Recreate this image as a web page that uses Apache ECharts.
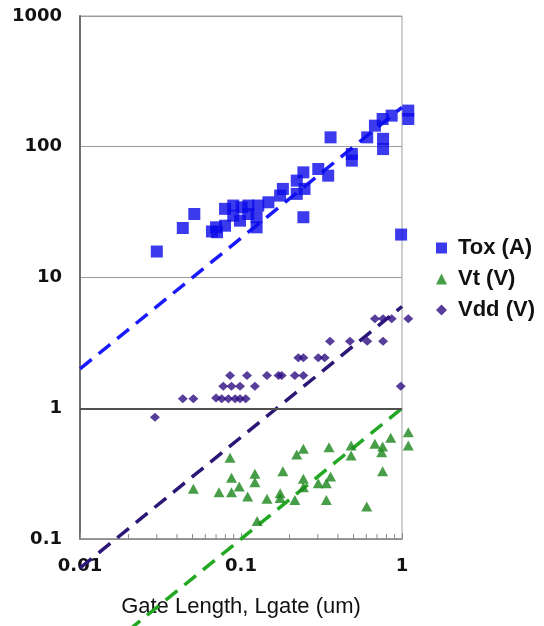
<!DOCTYPE html>
<html>
<head>
<meta charset="utf-8">
<script src="https://cdn.jsdelivr.net/npm/echarts@6/dist/echarts.min.js"></script>
<style>
  html, body { margin: 0; padding: 0; background: #fff; }
  #main { width: 544px; height: 626px; }
</style>
</head>
<body>
<div id="main"></div>
<script>
// gate length (um) vs value
var toxPoints = [
  [0.030, 15.8], [0.0435, 23.9], [0.0513, 30.6], [0.066, 22.5], [0.070, 24.2], [0.071, 22.2],
  [0.0796, 24.9], [0.0796, 33.5], [0.0895, 29.7], [0.0895, 35.5], [0.0986, 27.2], [0.101, 34.4],
  [0.111, 30.6], [0.111, 35.5], [0.125, 24.2], [0.125, 28.9], [0.128, 35.5], [0.148, 37.6],
  [0.175, 42.3], [0.182, 47.6], [0.222, 55.1], [0.222, 43.6], [0.244, 63.7], [0.248, 47.6],
  [0.244, 28.9], [0.302, 67.6], [0.348, 60.1], [0.360, 118], [0.488, 78.3], [0.488, 88.1],
  [0.608, 118], [0.679, 145], [0.758, 163], [0.763, 115], [0.763, 96], [0.863, 173],
  [1.094, 189], [1.094, 163], [0.987, 21.3]
];
var vtPoints = [
  [0.0506, 0.242], [0.0855, 0.418], [0.0873, 0.294], [0.0730, 0.228], [0.0873, 0.228],
  [0.0975, 0.252], [0.110, 0.211], [0.122, 0.315], [0.122, 0.272], [0.145, 0.203],
  [0.126, 0.137], [0.182, 0.330], [0.175, 0.224], [0.175, 0.206], [0.216, 0.199],
  [0.222, 0.443], [0.244, 0.489], [0.244, 0.289], [0.244, 0.249], [0.302, 0.267],
  [0.339, 0.267], [0.360, 0.301], [0.339, 0.199], [0.352, 0.503], [0.483, 0.519],
  [0.483, 0.435], [0.604, 0.177], [0.679, 0.534], [0.758, 0.509], [0.748, 0.461],
  [0.758, 0.330], [0.851, 0.594], [1.094, 0.656], [1.094, 0.519]
];
var vddPoints = [
  [0.0292, 0.853], [0.0435, 1.18], [0.0506, 1.18], [0.070, 1.20], [0.0759, 1.18],
  [0.0835, 1.18], [0.0919, 1.18], [0.0986, 1.18], [0.107, 1.18], [0.0776, 1.47],
  [0.0873, 1.47], [0.0986, 1.47], [0.122, 1.47], [0.0855, 1.78], [0.109, 1.78],
  [0.145, 1.78], [0.171, 1.78], [0.179, 1.78], [0.216, 1.78], [0.244, 1.78],
  [0.227, 2.43], [0.244, 2.43], [0.302, 2.43], [0.331, 2.43], [0.357, 3.25],
  [0.475, 3.25], [0.608, 3.25], [0.763, 3.25], [0.679, 4.83], [0.763, 4.83],
  [0.863, 4.83], [1.094, 4.83], [0.982, 1.47]
];
// dashed trend lines (end points)
var toxTrend = [[0.01, 2], [1, 200]];
var vddTrend = [[0.01, 0.06], [1, 6]];
var vtTrend = [[0.02, 0.02], [1, 1]];
// minor ticks on the x axis
var minorTicks = [0.02, 0.03, 0.04, 0.05, 0.06, 0.07, 0.08, 0.09,
                  0.2, 0.3, 0.4, 0.5, 0.6, 0.7, 0.8, 0.9];
var seriesNames = ['Tox (A)', 'Vt (V)', 'Vdd (V)'];

var myChart = echarts.init(document.getElementById('main'));

function plainNum(v) {
  return String(+Number(v).toPrecision(6));
}

var option = {
  animation: false,
  backgroundColor: '#fff',
  grid: {
    left: 80, right: 142, top: 16, bottom: 87,
    show: true, borderColor: '#a0a0a0', borderWidth: 1
  },
  legend: {
    orient: 'vertical',
    left: 431, top: 232,
    itemWidth: 11, itemHeight: 11,
    itemGap: 9,
    data: seriesNames,
    textStyle: {
      fontFamily: 'Liberation Sans', fontWeight: 'bold', fontSize: 22,
      color: '#111', lineHeight: 22, padding: [0, 0, 0, 6]
    }
  },
  xAxis: {
    type: 'log', logBase: 10, min: 0.01, max: 1,
    name: 'Gate Length, Lgate (um)',
    nameLocation: 'middle', nameGap: 57,
    nameTextStyle: { fontFamily: 'Liberation Sans', fontSize: 22, color: '#111' },
    axisLine: { lineStyle: { color: '#8a8a8a', width: 1.5 } },
    axisTick: { inside: true, length: 6, lineStyle: { color: '#8a8a8a' } },
    splitLine: { show: false },
    axisLabel: {
      margin: 18, formatter: plainNum,
      fontFamily: 'DejaVu Sans', fontWeight: 'bold', fontSize: 18, color: '#111'
    }
  },
  yAxis: {
    type: 'log', logBase: 10, min: 0.1, max: 1000,
    axisLine: { show: true, lineStyle: { color: '#707070', width: 2 } },
    axisTick: { show: false },
    splitLine: { lineStyle: { color: '#9a9a9a', width: 1 } },
    axisLabel: {
      margin: 18, formatter: plainNum,
      fontFamily: 'DejaVu Sans', fontWeight: 'bold', fontSize: 18, color: '#111'
    }
  },
  series: [
    {
      name: 'Tox (A)', type: 'scatter', symbol: 'rect', symbolSize: 12,
      clip: false, data: toxPoints, z: 5,
      itemStyle: { color: '#0a0ae8' },
      markLine: {
        silent: true, symbol: 'none', label: { show: false },
        lineStyle: { color: '#505050', width: 2, type: 'solid' },
        data: [{ yAxis: 1 }]
      }
    },
    {
      name: 'Vt (V)', type: 'scatter', symbol: 'triangle', symbolSize: [11, 10],
      clip: false, data: vtPoints, z: 5,
      itemStyle: { color: '#1a861a' }
    },
    {
      name: 'Vdd (V)', type: 'scatter', symbol: 'diamond', symbolSize: [10, 9],
      clip: false, data: vddPoints, z: 5,
      itemStyle: { color: '#2e0e82' }
    },
    {
      type: 'line', data: toxTrend, clip: false, symbol: 'none', z: 4,
      lineStyle: { color: '#1a1aff', width: 3.5, type: [15, 9] }
    },
    {
      type: 'line', data: vddTrend, clip: false, symbol: 'none', z: 4,
      lineStyle: { color: '#2c1676', width: 3.5, type: [15, 9] }
    },
    {
      type: 'line', data: vtTrend, clip: false, symbol: 'none', z: 4,
      lineStyle: { color: '#22a822', width: 3.5, type: [15, 9] }
    },
    {
      type: 'custom', silent: true, clip: false, z: 3,
      data: minorTicks.map(function (v) { return [v, 0.1]; }),
      renderItem: function (params, api) {
        var p = api.coord([api.value(0), api.value(1)]);
        return {
          type: 'line',
          shape: { x1: p[0], y1: p[1], x2: p[0], y2: p[1] - 5 },
          style: { stroke: '#8a8a8a', lineWidth: 1 }
        };
      }
    }
  ]
};

myChart.setOption(option);
</script>
</body>
</html>
